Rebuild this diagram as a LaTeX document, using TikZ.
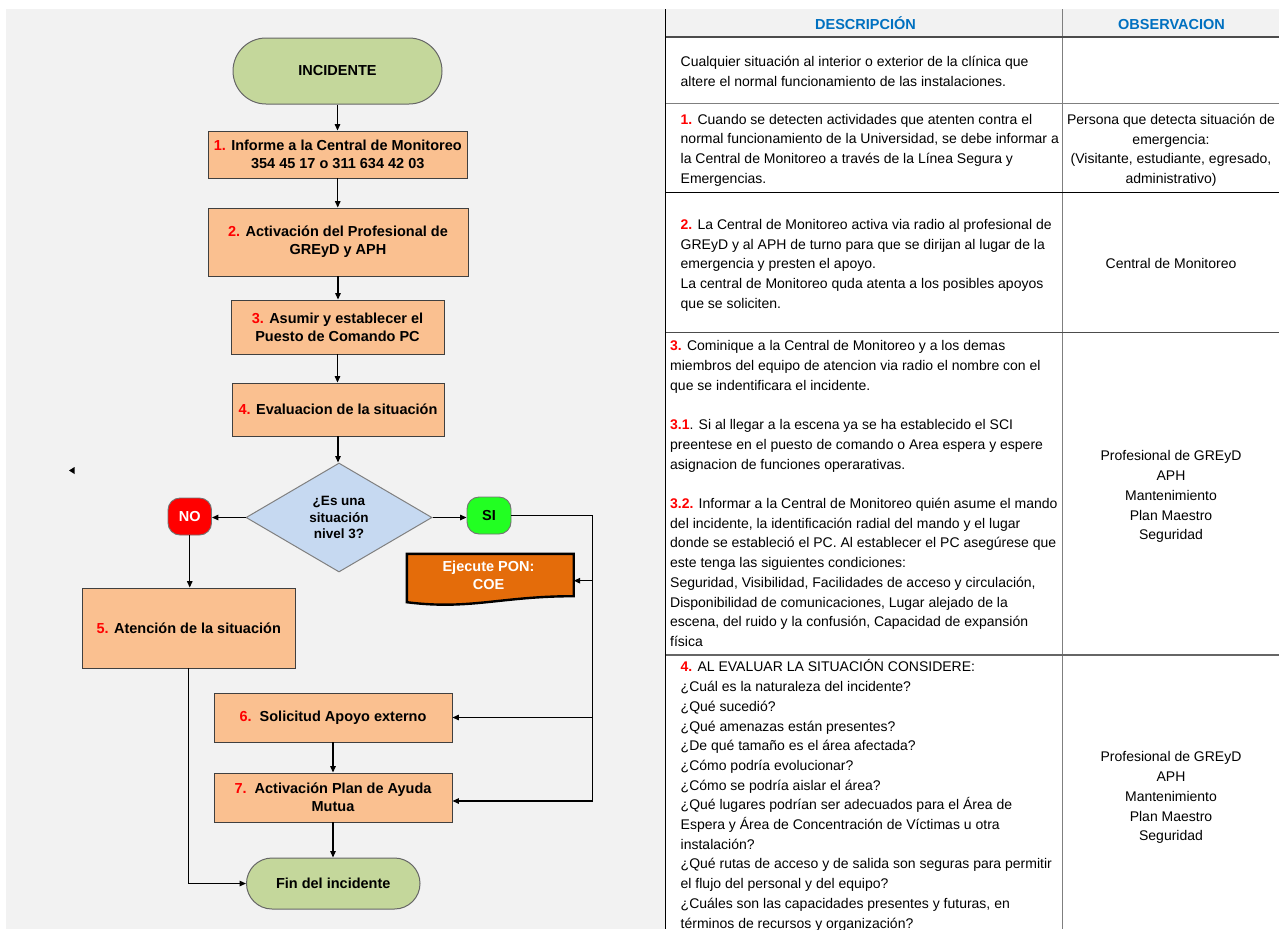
\documentclass[tikz,border=0pt]{standalone}
\usepackage{fontspec}
\setmainfont{Liberation Sans}
\usetikzlibrary{arrows.meta,shapes.geometric}
\definecolor{panel}{HTML}{F2F2F2}
\definecolor{termg}{HTML}{C4D79B}
\definecolor{peach}{HTML}{FAC090}
\definecolor{diab}{HTML}{C6D9F1}
\definecolor{ponor}{HTML}{E46C0A}
\definecolor{hdrblue}{HTML}{0070C0}
\definecolor{nored}{HTML}{FF0000}
\definecolor{sigreen}{HTML}{22FF22}
\definecolor{tgray}{HTML}{7F7F7F}
\newcommand{\rn}[1]{\textcolor{red}{\textbf{#1}}}
\newcommand{\firstln}{\rule{0pt}{14pt}}
\begin{document}
\begin{tikzpicture}[x=1pt,y=-1pt,
  bfont/.style={font=\bfseries\fontsize{14.5pt}{18pt}\selectfont},
  proc/.style={bfont, draw=black!75, fill=peach, line width=0.9pt, inner sep=2pt, align=center},
  term/.style={bfont, draw=black!60, fill=termg, line width=1pt, align=center},
  dia/.style={diamond, draw=black!50, fill=diab, line width=1pt, minimum width=186pt, minimum height=109pt, aspect=1.7, inner sep=0pt, align=center, font=\bfseries\fontsize{13.5pt}{16.5pt}\selectfont},
  nobox/.style={bfont, draw=black!55, fill=nored, text=white, rounded corners=12pt, minimum width=43.5pt, minimum height=37pt, inner sep=0pt, line width=0.9pt},
  sibox/.style={bfont, draw=black!55, fill=sigreen, text=black, rounded corners=12pt, minimum width=44pt, minimum height=37pt, inner sep=0pt, line width=0.9pt},
  ponbox/.style={font=\bfseries\fontsize{14.5pt}{17.5pt}\selectfont, text=white, minimum width=166.5pt, minimum height=42pt, inner sep=0pt, align=center},
  arr/.style={-{Triangle[length=6.5pt,width=5.5pt]}, line width=1.3pt},
  cline/.style={line width=1.3pt},
  tline/.style={draw=tgray, line width=1.3pt},
  cell/.style={inner sep=0pt, align=left, anchor=north west, font=\fontsize{14pt}{19.7pt}\selectfont},
  obs/.style={inner sep=0pt, align=center, anchor=north, font=\fontsize{14pt}{19.7pt}\selectfont},
  hdr/.style={inner sep=0pt, anchor=base, text=hdrblue, font=\bfseries\fontsize{14.5pt}{17pt}\selectfont}
]
\useasboundingbox (0,0) rectangle (1279,929);
\clip (0,0) rectangle (1279,929);
\fill[white] (0,0) rectangle (1279,929);
\fill[panel] (6,9) rectangle (665,929);
\fill[panel] (665,9) rectangle (1279,37);

% table grid
\draw[tline] (1062.7,9) -- (1062.7,929);
\draw[tline, draw=black!70, line width=1.6pt] (665,37) -- (1279,37);
\draw[tline] (665,103.3) -- (1279,103.3);
\draw[tline, draw=black, line width=1.4pt] (665,192.3) -- (1279,192.3);
\draw[tline, draw=black!70] (665,332.3) -- (1279,332.3);
\draw[tline, draw=black!60, line width=1.6pt] (665,655) -- (1279,655);
\draw[line width=1.6pt, black] (665.5,9) -- (665.5,929);

% header
\node[hdr] (h1) at (865.5,29.3) {DESCRIPCIÓN};
\node[hdr] (h2) at (1171.5,29.3) {OBSERVACION};

% table cells
\node[cell] (d1) at (680.5,52.5) {\firstln Cualquier situación al interior o exterior de la clínica que\\altere el normal funcionamiento de las instalaciones.};
\node[cell] (d2) at (680.5,110) {\firstln\rn{1.} Cuando se detecten actividades que atenten contra el\\normal funcionamiento de la Universidad, se debe informar a\\la Central de Monitoreo a través de la Línea Segura y\\Emergencias.};
\node[obs] (o2) at (1171,110.3) {\firstln Persona que detecta situación de\\emergencia:\\(Visitante, estudiante, egresado,\\administrativo)};
\node[cell] (d3) at (680.5,215.3) {\firstln\rn{2.} La Central de Monitoreo activa via radio al profesional de\\GREyD y al APH de turno para que se dirijan al lugar de la\\emergencia y presten el apoyo.\\La central de Monitoreo quda atenta a los posibles apoyos\\que se soliciten.};
\node[obs] (o3) at (1171,254.7) {\firstln Central de Monitoreo};
\node[cell] (d4) at (670,336.7) {\firstln\rn{3.} Cominique a la Central de Monitoreo y a los demas\\miembros del equipo de atencion via radio el nombre con el\\que se indentificara el incidente.\\[19.7pt]\rn{3.1}. Si al llegar a la escena ya se ha establecido el SCI\\preentese en el puesto de comando o Area espera y espere\\asignacion de funciones operarativas.\\[19.7pt]\rn{3.2.} Informar a la Central de Monitoreo quién asume el mando\\del incidente, la identificación radial del mando y el lugar\\donde se estableció el PC. Al establecer el PC asegúrese que\\este tenga las siguientes condiciones:\\Seguridad, Visibilidad, Facilidades de acceso y circulación,\\Disponibilidad de comunicaciones, Lugar alejado de la\\escena, del ruido y la confusión, Capacidad de expansión\\física};
\node[obs] (o4) at (1171,446.7) {\firstln Profesional de GREyD\\APH\\Mantenimiento\\Plan Maestro\\Seguridad};
\node[cell] (d5) at (680.5,657.7) {\firstln\rn{4.} AL EVALUAR LA SITUACIÓN CONSIDERE:\\¿Cuál es la naturaleza del incidente?\\¿Qué sucedió?\\¿Qué amenazas están presentes?\\¿De qué tamaño es el área afectada?\\¿Cómo podría evolucionar?\\¿Cómo se podría aislar el área?\\¿Qué lugares podrían ser adecuados para el Área de\\Espera y Área de Concentración de Víctimas u otra\\instalación?\\¿Qué rutas de acceso y de salida son seguras para permitir\\el flujo del personal y del equipo?\\¿Cuáles son las capacidades presentes y futuras, en\\términos de recursos y organización?};
\node[obs] (o5) at (1171,747.7) {\firstln Profesional de GREyD\\APH\\Mantenimiento\\Plan Maestro\\Seguridad};

% flowchart nodes
\node[term, minimum width=209pt, minimum height=66pt, rounded corners=33pt] (inc) at (337.5,71) {INCIDENTE};
\node[proc, minimum width=258.5pt, minimum height=47pt] (b1) at (337.75,154.5) {\rn{1.} Informe a la Central de Monitoreo\\354 45 17 o 311 634 42 03};
\node[proc, minimum width=260pt, minimum height=68pt] (b2) at (338,242) {\rn{2.} Activación del Profesional de\\GREyD y APH};
\node[proc, minimum width=213pt, minimum height=54pt] (b3) at (337.5,327) {\rn{3.} Asumir y establecer el\\Puesto de Comando PC};
\node[proc, minimum width=212pt, minimum height=53pt] (b4) at (338,409.5) {\rn{4.} Evaluacion de la situación};
\node[dia] (dec) at (339,517.5) {¿Es una\\situación\\nivel 3?};
\node[nobox] (no) at (189.75,516.5) {NO};
\node[sibox] (si) at (489,515.5) {SI};
\node[ponbox] (pon) at (490.25,575) {};
\draw[fill=ponor, line width=2.4pt, line join=miter] (pon.north west) -- (pon.north east) -- (pon.south east)
   .. controls ([xshift=-73pt]pon.south east) and ([xshift=63pt,yshift=-14pt]pon.south west) .. ([yshift=-6pt]pon.south west) -- cycle;
\node[ponbox] (ponT) at (488.5,575.3) {Ejecute PON:\\COE};
\node[proc, minimum width=212.5pt, minimum height=80pt] (b5) at (188.75,628) {\rn{5.} Atención de la situación};
\node[proc, minimum width=238pt, minimum height=49pt] (b6) at (333,717.5) {\rn{6.}~~Solicitud Apoyo externo};
\node[proc, minimum width=238pt, minimum height=49pt] (b7) at (333,797.5) {\rn{7.}~~Activación Plan de Ayuda\\Mutua};
\node[term, minimum width=173.5pt, minimum height=51pt, rounded corners=25.5pt] (fin) at (333.25,883.5) {Fin del incidente};

% stray marker
\fill[black] (69,470.5) -- (74.5,467) -- (74.5,474) -- cycle;

% connectors
\coordinate (rt) at (592.7,515.5);
\coordinate (rb) at (592.7,801);
\coordinate (r1) at (592.7,580.7);
\coordinate (r2) at (592.7,717.5);
\draw[arr] (inc.south) -- (inc.south |- b1.north);
\draw[arr] (b1.south) -- (b1.south |- b2.north);
\draw[arr] (b2.south) -- (b2.south |- b3.north);
\draw[arr] (b3.south) -- (b3.south |- b4.north);
\draw[arr] (b4.south) -- (b4.south |- dec.north);
\draw[arr] (dec.west) -- (dec.west -| no.east);
\draw[arr] (dec.east) -- (dec.east -| si.west);
\draw[arr] (no.south) -- (no.south |- b5.north);
\draw[cline] (si.east) -- (rt) -- (rb);
\draw[arr] (rb) -- (rb -| b7.east);
\draw[arr] (r1) -- (r1 -| pon.east);
\draw[arr] (r2) -- (r2 -| b6.east);
\draw[arr] (b6.south) -- (b6.south |- b7.north);
\draw[arr] (b7.south) -- (b7.south |- fin.north);
\draw[arr] (b5.south) |- (fin.west);
\end{tikzpicture}
\end{document}
